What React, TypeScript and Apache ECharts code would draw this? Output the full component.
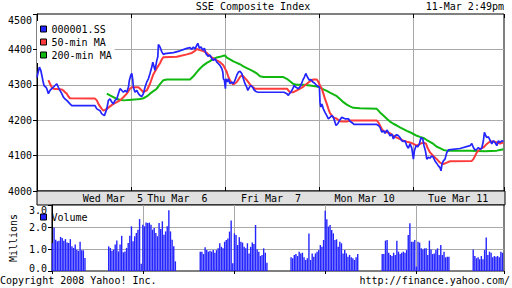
import React, { useEffect, useRef } from 'react';
import * as echarts from 'echarts';

const chartTitle = 'SSE Composite Index';
const timestamp = '11-Mar 2:49pm';
const copyrightText = 'Copyright 2008 Yahoo! Inc.';
const sourceText = 'http://finance.yahoo.com/';
const dayLabels = ['Wed Mar\u00a0\u00a05', 'Thu Mar\u00a0\u00a06', 'Fri Mar\u00a0\u00a07', 'Mon Mar 10', 'Tue Mar 11'];
const seriesNames = ['000001.SS', '50-min MA', '200-min MA', 'Volume'];

// x unit: time slot (47 slots per day), day boundaries at 47, 94, 141, 188
const SLOTS_PER_DAY = 47;
const X_MAX = 233.5;
const PRICE_MIN = 4000;
const PRICE_MAX = 4500;
const PRICE_STEP = 100;
const VOL_MIN = 0;
const VOL_MAX = 3;
const VOL_STEP = 1;

const price: number[][] = [
  [0,4321],[1.2,4350],[1.9,4341],[2.4,4327],[2.9,4313],[3.5,4298],[4.5,4293],[4.9,4289],[5.7,4275],[6.5,4284],
  [7.4,4289],[8.2,4293],[9,4298],[9.9,4303],[10.7,4293],[11.5,4284],[12.4,4275],[13.2,4265],[14,4260],[14.9,4256],
  [15.7,4251],[16.5,4246],[17.4,4241],[29,4241],[29.9,4232],[31.5,4227],[32.4,4218],[33.7,4213],[34.9,4232],[35.7,4256],
  [36.5,4260],[37.4,4251],[38.2,4246],[39,4256],[39.9,4260],[40.7,4275],[41.5,4289],[42.4,4284],[43.2,4279],[44,4284],
  [44.9,4279],[45.7,4293],[46.2,4313],[46.9,4327],[47.4,4332],[47.9,4313],[48.2,4293],[49,4279],[49.9,4284],[50.7,4275],
  [51.5,4270],[52.4,4267],[53.2,4275],[54,4293],[54.9,4308],[55.7,4317],[56.5,4332],[57.4,4350],[57.9,4364],[59,4341],
  [59.9,4369],[60.4,4379],[60.7,4414],[61.5,4407],[62.4,4393],[63.2,4386],[64,4388],[68.2,4391],[71.5,4396],[74.9,4403],
  [76.5,4405],[77.4,4400],[78.2,4407],[79,4401],[79.9,4412],[80.4,4417],[81.2,4403],[82,4407],[82.9,4398],[83.7,4403],
  [84.5,4388],[85.5,4381],[86.5,4384],[87.4,4374],[88.2,4369],[89,4374],[89.9,4364],[90.7,4360],[91.5,4355],[92.4,4346],
  [92.9,4336],[93.2,4317],[93.7,4313],[94.2,4289],[94.5,4317],[95.2,4308],[95.7,4317],[96.5,4303],[97.4,4308],[98.2,4303],
  [99,4313],[99.9,4327],[100.7,4336],[101.5,4338],[102.4,4332],[103.2,4317],[104,4303],[104.9,4293],[105.4,4284],[106.2,4293],
  [107,4298],[107.9,4293],[108.5,4286],[109.5,4281],[110.5,4279],[123.5,4279],[124.9,4275],[125.7,4270],[126.2,4275],[126.9,4279],
  [127.9,4289],[128.5,4298],[129.5,4293],[130.7,4289],[131.9,4298],[132.9,4313],[133.7,4322],[134.4,4332],[135.2,4322],[136.2,4313],
  [137,4315],[137.9,4308],[138.7,4305],[139.9,4298],[141.2,4293],[141.5,4251],[141.9,4237],[142.4,4246],[143.2,4232],[144,4222],
  [144.9,4213],[145.7,4204],[146.5,4208],[147.4,4213],[148.2,4208],[149,4194],[149.5,4185],[150.4,4190],[151.2,4199],[152.4,4208],
  [154,4204],[155.7,4204],[156.5,4197],[158.2,4190],[158.5,4188],[169.9,4188],[170.7,4185],[171.5,4180],[172.4,4166],[173.2,4170],
  [174,4163],[174.9,4172],[175.7,4166],[176.5,4156],[177.4,4161],[178.2,4147],[179,4156],[179.9,4159],[180.7,4156],[181.5,4151],
  [182.4,4142],[183.2,4140],[184,4142],[184.9,4128],[185.7,4121],[186.5,4133],[187.4,4121],[188.2,4090],[188.7,4114],[189.5,4128],
  [190.4,4125],[191.2,4133],[192,4151],[192.9,4147],[193.5,4128],[194.2,4114],[194.9,4090],[195.7,4095],[196.5,4093],[197.4,4099],
  [198.2,4095],[199,4085],[199.9,4078],[200.7,4071],[201.5,4066],[202,4057],[202.5,4076],[203.2,4085],[204,4090],[204.9,4109],
  [205.7,4116],[211.5,4120],[216.5,4128],[217.4,4134],[218.2,4123],[219,4116],[219.9,4118],[220.7,4123],[221.5,4118],[222.4,4121],
  [223.2,4142],[223.7,4166],[224.4,4156],[224.9,4151],[225.7,4153],[226.5,4144],[227.4,4133],[228.2,4142],[229,4137],[229.9,4128],
  [230.7,4142],[231.5,4137],[232.4,4142],[233.2,4140]
];

const ma50: number[][] = [
  [5.7,4313],[6.5,4303],[7.4,4293],[8.2,4289],[12.4,4287],[13.2,4284],[14,4279],[14.9,4275],[15.7,4267],[16.5,4262],
  [29,4261],[29.9,4256],[30.7,4246],[31.5,4239],[32.4,4232],[33.2,4227],[34,4229],[34.9,4232],[36.5,4239],[38.2,4246],
  [39.9,4251],[41.5,4256],[43.2,4265],[44.9,4275],[46.5,4289],[47.4,4293],[50.7,4293],[51.5,4289],[52.4,4284],[53.2,4279],
  [54.9,4284],[56.5,4303],[58.2,4330],[59.9,4347],[61.5,4361],[62.4,4372],[63.2,4378],[69.9,4379],[74.9,4386],[77.4,4390],
  [79,4396],[79.9,4401],[81.5,4398],[83.2,4395],[84.9,4390],[86.5,4381],[88.2,4374],[89.9,4369],[91.5,4364],[93.2,4355],
  [94.9,4336],[95.7,4322],[96.5,4313],[97.4,4305],[98.2,4301],[99.9,4308],[101.5,4322],[102.4,4327],[103.2,4324],[104.9,4313],
  [106.5,4301],[108.2,4292],[109,4289],[125,4289],[125.7,4284],[126.5,4279],[128.2,4279],[129.9,4284],[131.5,4289],[133.2,4295],
  [134.9,4303],[136.5,4310],[138.2,4315],[139.9,4315],[140.7,4308],[141.5,4298],[142.4,4289],[143.2,4275],[144,4260],[144.9,4246],
  [145.7,4232],[146.5,4220],[148.2,4208],[149.9,4204],[151.5,4197],[153.2,4196],[154.9,4196],[156.5,4199],[169.9,4199],[170.7,4194],
  [171.5,4185],[172.4,4175],[173.2,4170],[174.9,4166],[176.5,4163],[178.2,4156],[179.9,4151],[181.5,4147],[183.2,4142],[184.9,4139],
  [186.5,4137],[188.2,4133],[189.9,4128],[191.5,4133],[193.2,4137],[194.5,4134],[195.2,4123],[196.5,4109],[198.2,4099],[199.9,4090],
  [201.5,4080],[203.2,4076],[204.9,4080],[206.5,4084],[217.4,4085],[218.2,4090],[219,4099],[219.9,4109],[221.5,4118],[223.2,4123],
  [224.9,4133],[226.5,4140],[228.2,4140],[229.9,4137],[231.5,4134],[233.2,4137]
];

const ma200: number[][] = [
  [34.9,4275],[36.5,4270],[38.2,4265],[39.9,4260],[41.5,4258],[43.2,4256],[47.4,4258],[49.9,4259],[51.5,4260],[53.2,4262],
  [54.9,4267],[56.5,4275],[58.2,4282],[59.9,4289],[61.5,4302],[63.2,4313],[64.9,4315],[76.5,4315],[78.2,4324],[79.9,4336],
  [81.5,4346],[83.2,4355],[84.9,4362],[86.5,4367],[88.2,4374],[89.9,4377],[91.5,4379],[93.2,4382],[94,4383],[94.9,4377],
  [96.5,4372],[98.2,4366],[99.9,4362],[101.5,4358],[103.2,4352],[104.9,4347],[106.5,4343],[108.2,4338],[109.9,4332],[111.5,4324],
  [113.2,4322],[123.2,4322],[124.9,4317],[126.5,4310],[128.2,4302],[129.9,4300],[133.2,4300],[136.5,4298],[139.9,4295],[141.5,4293],
  [143.2,4287],[144.9,4283],[146.5,4278],[148.2,4273],[149.9,4268],[151.5,4260],[153.2,4251],[154.9,4244],[156.5,4239],[158.2,4235],
  [161.5,4234],[169.9,4232],[171.5,4222],[173.2,4213],[174.9,4204],[176.5,4196],[178.2,4190],[179.9,4185],[181.5,4180],[183.2,4175],
  [184.9,4170],[186.5,4166],[188.2,4161],[189.9,4156],[191.5,4153],[193.2,4150],[194.9,4144],[196.5,4139],[198.2,4133],[199.9,4125],
  [201.5,4121],[203.2,4116],[204.9,4114],[216.5,4114],[224,4112],[229.9,4114],[231.5,4116],[233.2,4118]
];

// Volume (millions), one bar per interval; first-bar slot of each session block
const BAR_STEP = 0.84;
const volStarts = [0.25, 29.3, 76.6, 123.5, 170.6, 217.6];
const vol1 = [1.27,1.98,1.42,1.35,1.38,1.55,1.5,1.38,1.45,1.3,1.27,1.45,1.12,1.05,1.2,0.97,0.92,1.33,0.94,0.94,0.59];
const vol2 = [1.12,1.05,0.92,0.97,1.2,1.39,0.89,1.2,1.6,0.85,0.89,1.05,1.27,1.6,2.03,1.35,1.58,1.73,1.88,2.36,0.33,2.1,2.03,2.2,2.18,2.2,2.1,1.88,1.95,1.73,1.58,2.18,1.91,2.26,1.65,1.8,2.03,2.76,1.8,1.42,1.12,0.44];
const vol3 = [0.88,0.88,0.77,1.08,0.95,0.88,0.92,0.88,0.95,0.83,0.95,1.03,1.26,1.1,1.03,1.33,1.41,1.48,1.79,2.29,0.35,1.71,1.64,1.18,1.53,1.33,1.29,1.1,1.03,1.26,0.8,1.1,1.29,1.23,2.09,0.98,0.88,0.68,0.73,1.03,0.83,0.38];
const vol4 = [0.62,0.58,0.73,0.77,0.68,0.88,0.8,0.83,0.62,0.5,0.58,1.71,0.5,0.8,0.65,0.8,0.88,0.95,1.18,1.1,1.41,2.74,2.35,2.02,2.09,1.86,1.71,1.41,1.44,1.1,1.33,1.26,0.8,0.95,0.8,0.65,0.73,0.62,0.58,0.5,0.62,0.77];
const vol5 = [0.77,0.77,1.38,1.41,0.83,0.73,0.68,0.83,0.73,1.38,0.88,0.77,0.83,0.88,0.83,0.95,1.64,2.17,1.33,1.33,1.41,0.2,1.33,1.29,1.03,0.98,1.03,1.03,0.73,1.38,0.98,0.77,0.8,0.95,1.03,0.73,1.18,0.73,0.88,0.62,0.65,0.65];
const vol6 = [0.98,0.68,0.58,0.62,0.53,0.68,0.53,0.95,1.52,0.73,0.88,0.83,0.62,0.68,0.65,0.68,0.62,0.88,0.83];
const volBlocks = [vol1, vol2, vol3, vol4, vol5, vol6];

const BLUE = '#2424ff';
const RED = '#ff3a3a';
const GREEN = '#10b810';
const GRID_GRAY = '#a8a8a8';
const BAND_GRAY = '#e0e0e0';
const FONT = 'DejaVu Sans Mono';

function buildOption() {
  const volumeData: number[][] = [];
  volBlocks.forEach((vals, b) => {
    vals.forEach((v, i) => volumeData.push([volStarts[b] + i * BAR_STEP, v]));
  });
  const txt = { fontFamily: FONT, fontSize: 10, color: '#000' };
  const splitGray = { show: true, showMinLine: false, showMaxLine: false, lineStyle: { color: GRID_GRAY, width: 1 } };
  const timeAxisBase = {
    type: 'value', min: 0, max: X_MAX, interval: SLOTS_PER_DAY,
    axisLabel: { show: false }, axisLine: { show: false },
  };
  return {
    animation: false,
    backgroundColor: '#fff',
    grid: [
      { left: 37, top: 14, width: 467, height: 177, show: true, borderColor: '#000', borderWidth: 1, backgroundColor: '#fff' },
      { left: 37, top: 191, width: 468, height: 14, show: true, borderColor: '#000', borderWidth: 1, backgroundColor: BAND_GRAY },
      { left: 37, top: 205, width: 467, height: 66, show: true, borderColor: '#000', borderWidth: 1, backgroundColor: '#fff' },
    ],
    xAxis: [
      { ...timeAxisBase, gridIndex: 0, position: 'bottom',
        axisTick: { show: true, inside: true, length: 4, lineStyle: { color: '#000' } }, splitLine: splitGray },
      { ...timeAxisBase, gridIndex: 0, position: 'top',
        axisTick: { show: true, inside: true, length: 4, lineStyle: { color: '#000' } }, splitLine: { show: false } },
      { type: 'category', gridIndex: 1, position: 'top', data: dayLabels, boundaryGap: true,
        axisLine: { show: false }, axisTick: { show: false }, splitLine: { show: false },
        axisLabel: { ...txt, inside: true, margin: 2, interval: 0,
          formatter: (v: string, i: number) => (i === 0 ? '{w|' + v + '}' : v),
          rich: { w: { ...txt, padding: [0, 0, 0, 58] } } } },
      { ...timeAxisBase, gridIndex: 2, position: 'top',
        axisTick: { show: true, inside: true, length: 3, lineStyle: { color: '#000' } }, splitLine: splitGray },
    ],
    yAxis: [
      { type: 'value', gridIndex: 0, min: PRICE_MIN, max: PRICE_MAX, interval: PRICE_STEP,
        axisLine: { show: true, lineStyle: { color: '#000' } },
        axisTick: { show: true, length: 4, lineStyle: { color: '#000' } },
        axisLabel: { ...txt, margin: 5,
          formatter: (v: number) => (v === PRICE_MAX ? '{t|' + v + '}' : String(v)),
          rich: { t: { ...txt, padding: [13, 0, 0, 0] } } },
        splitLine: splitGray },
      { type: 'value', gridIndex: 1, show: false, min: 0, max: 1 },
      { type: 'value', gridIndex: 2, min: VOL_MIN, max: VOL_MAX, interval: VOL_STEP,
        name: 'Millions', nameLocation: 'middle', nameRotate: 90, nameGap: 24, nameTextStyle: { ...txt },
        axisLine: { show: true, lineStyle: { color: '#000' } },
        axisTick: { show: true, length: 4, lineStyle: { color: '#000' } },
        axisLabel: { ...txt, margin: 5,
          formatter: (v: number) => v === VOL_MAX ? '{t|' + v.toFixed(1) + '}' : v === VOL_MIN ? '{b|' + v.toFixed(1) + '}' : v.toFixed(1),
          rich: { t: { ...txt, padding: [10, 0, 0, 0] }, b: { ...txt, padding: [0, 0, 5, 0] } } },
        splitLine: splitGray },
    ],
    legend: [
      { data: seriesNames.slice(0, 3), orient: 'vertical', left: 37, top: 21, icon: 'rect',
        itemWidth: 6, itemHeight: 6, itemGap: 1, padding: [2, 3, 2, 3], backgroundColor: '#fff',
        itemStyle: { borderColor: '#000', borderWidth: 1 }, selectedMode: false,
        textStyle: { ...txt, lineHeight: 12 } },
      { data: [seriesNames[3]], orient: 'vertical', left: 37, top: 209, icon: 'rect',
        itemWidth: 6, itemHeight: 6, itemGap: 1, padding: [2, 3, 2, 3],
        itemStyle: { borderColor: '#000', borderWidth: 1 }, selectedMode: false,
        textStyle: { ...txt, lineHeight: 12 } },
    ],
    series: [
      { name: seriesNames[0], type: 'line', xAxisIndex: 0, yAxisIndex: 0, data: price, showSymbol: false,
        z: 5, lineStyle: { color: BLUE, width: 1.7 }, itemStyle: { color: BLUE } },
      { name: seriesNames[1], type: 'line', xAxisIndex: 0, yAxisIndex: 0, data: ma50, showSymbol: false,
        z: 4, lineStyle: { color: RED, width: 2 }, itemStyle: { color: RED } },
      { name: seriesNames[2], type: 'line', xAxisIndex: 0, yAxisIndex: 0, data: ma200, showSymbol: false,
        z: 3, lineStyle: { color: GREEN, width: 2 }, itemStyle: { color: GREEN } },
      { name: seriesNames[3], type: 'bar', xAxisIndex: 3, yAxisIndex: 2, data: volumeData, barWidth: 1.4,
        itemStyle: { color: BLUE } },
    ],
    graphic: [
      { type: 'text', x: 253, y: 6, style: { text: chartTitle, fontFamily: FONT, fontSize: 10, fill: '#000', align: 'center', verticalAlign: 'middle' } },
      { type: 'text', x: 504, y: 6, style: { text: timestamp, fontFamily: FONT, fontSize: 10, fill: '#000', align: 'right', verticalAlign: 'middle' } },
      { type: 'text', x: 0, y: 280, style: { text: copyrightText, fontFamily: FONT, fontSize: 10, fill: '#000', align: 'left', verticalAlign: 'middle' } },
      { type: 'text', x: 510, y: 280, style: { text: sourceText, fontFamily: FONT, fontSize: 10, fill: '#000', align: 'right', verticalAlign: 'middle' } },
    ],
  };
}

export default function App() {
  const ref = useRef<HTMLDivElement>(null);
  useEffect(() => {
    const chart = echarts.init(ref.current!, undefined, { renderer: 'svg' });
    chart.setOption(buildOption() as any);
    return () => chart.dispose();
  }, []);
  return <div ref={ref} style={{ position: 'absolute', left: 0, top: 0, width: 512, height: 288 }} />;
}
